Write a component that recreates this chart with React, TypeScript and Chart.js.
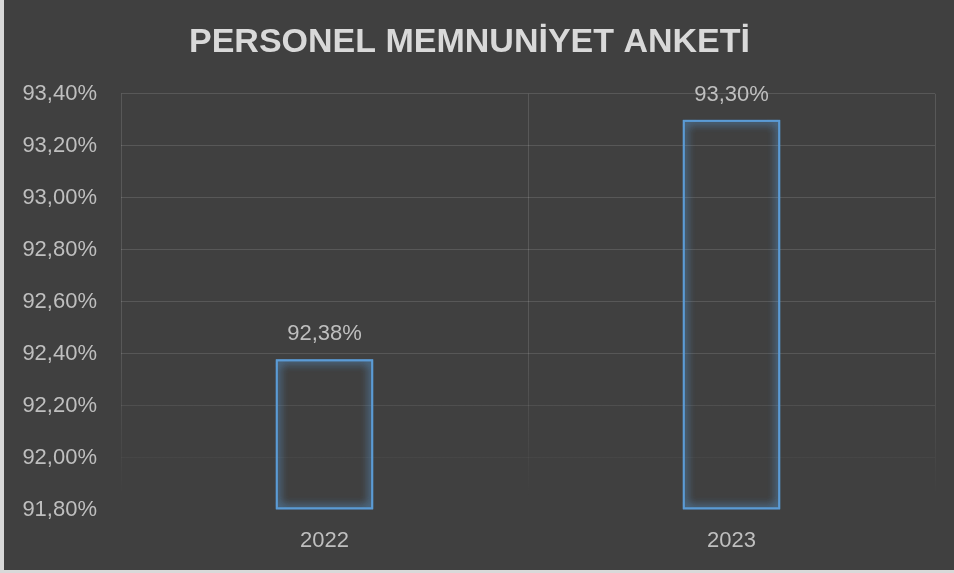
import React, { useEffect, useRef } from "react";
import { Chart, registerables } from "chart.js";

Chart.register(...registerables);

const TITLE = "PERSONEL MEMNUNİYET ANKETİ";
const categories = ["2022", "2023"];
const values = [92.38, 93.3];
const yMin = 91.8;
const yMax = 93.4;
const yStep = 0.2;

const fmt = (v: number) => v.toFixed(2).replace(".", ",") + "%";

const FONT = "'Liberation Sans', Arial, sans-serif";

function gridGradient(chart: any) {
  const area = chart.chartArea;
  if (!area) return "rgba(255,255,255,0.13)";
  const g = chart.ctx.createLinearGradient(0, area.top, 0, area.bottom);
  g.addColorStop(0, "rgba(255,255,255,0.13)");
  g.addColorStop(0.6, "rgba(255,255,255,0.13)");
  g.addColorStop(0.97, "rgba(255,255,255,0)");
  g.addColorStop(1, "rgba(255,255,255,0)");
  return g;
}

const glowPlugin = {
  id: "glow",
  beforeDatasetsDraw(chart: any) {
    const ctx = chart.ctx;
    ctx.save();
    ctx.shadowColor = "rgba(91,155,213,1)";
    ctx.shadowBlur = 10;
  },
  afterDatasetsDraw(chart: any) {
    const ctx = chart.ctx;
    // second pass to strengthen the glow
    const meta = chart.getDatasetMeta(0);
    meta.data.forEach((el: any) => el.draw(ctx));
    ctx.restore();
  },
};

const labelPlugin = {
  id: "valueLabels",
  afterDraw(chart: any) {
    const ctx = chart.ctx;
    const meta = chart.getDatasetMeta(0);
    ctx.save();
    ctx.font = `22px ${FONT}`;
    ctx.fillStyle = "#bfbfbf";
    ctx.textAlign = "center";
    ctx.textBaseline = "middle";
    meta.data.forEach((el: any, i: number) => {
      ctx.fillText(fmt(values[i]), el.x, el.y - 25);
    });
    ctx.restore();
  },
};

export default function App() {
  const ref = useRef<HTMLCanvasElement>(null);
  useEffect(() => {
    if (!ref.current) return;
    const chart = new Chart(ref.current, {
      type: "bar",
      data: {
        labels: categories,
        datasets: [
          {
            data: values,
            base: yMin,
            backgroundColor: "rgba(0,0,0,0)",
            borderColor: "#5b9bd5",
            borderWidth: 2,
            borderSkipped: false,
            barPercentage: 0.24,
            categoryPercentage: 1,
            clip: false,
          },
        ],
      },
      options: {
        responsive: false,
        animation: false,
        layout: { padding: { left: 0, right: 19, top: 0, bottom: 0 } },
        plugins: {
          legend: { display: false },
          tooltip: { enabled: false },
          title: {
            display: true,
            text: TITLE,
            color: "#d9d9d9",
            font: { family: FONT, size: 34, weight: "bold" },
            padding: { top: 22, bottom: 31 },
          },
        },
        scales: {
          x: {
            grid: {
              display: true,
              drawTicks: false,
              offset: true,
              color: (c: any) => gridGradient(c.chart),
              lineWidth: 1,
            },
            border: { display: false },
            ticks: {
              color: "#bfbfbf",
              font: { family: FONT, size: 22 },
              padding: 18,
            },
            afterFit: (scale: any) => {
              scale.height = 60;
            },
          },
          y: {
            min: yMin,
            max: yMax,
            grid: {
              drawTicks: false,
              color: (c: any) => gridGradient(c.chart),
              lineWidth: 1,
            },
            border: { display: false },
            ticks: {
              stepSize: yStep,
              color: "#bfbfbf",
              font: { family: FONT, size: 22 },
              padding: 24,
              callback: (v: any) => fmt(Number(v)),
            },
            afterFit: (scale: any) => {
              scale.width = 117;
            },
          },
        },
      },
      plugins: [glowPlugin, labelPlugin],
    });
    return () => chart.destroy();
  }, []);

  return (
    <div
      style={{
        position: "absolute",
        left: 0,
        top: 0,
        width: 954,
        height: 573,
        background: "#d9d9d9",
      }}
    >
      <div
        style={{
          position: "absolute",
          left: 4,
          top: 0,
          width: 950,
          height: 570,
          background: "#404040",
        }}
      >
        <canvas ref={ref} width={950} height={570} style={{ display: "block" }} />
      </div>
    </div>
  );
}
